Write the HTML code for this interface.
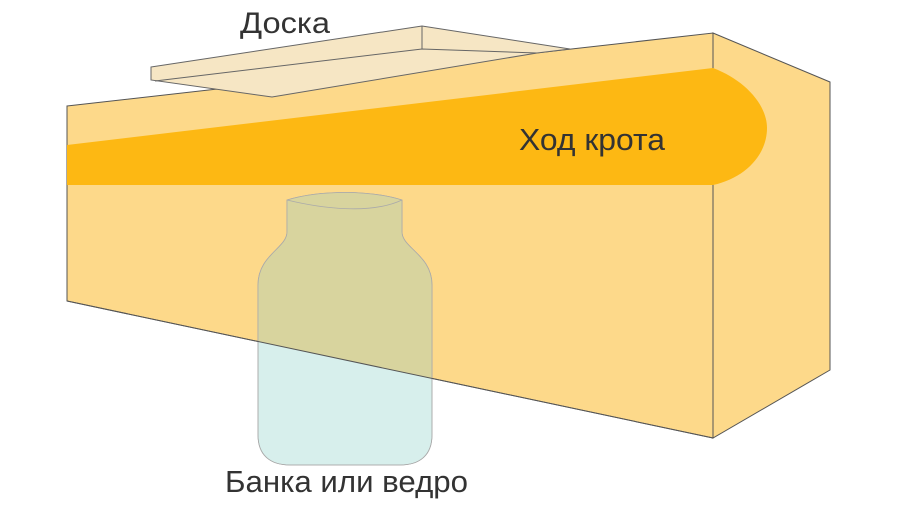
<!DOCTYPE html>
<html><head><meta charset="utf-8"><style>
html,body{margin:0;padding:0;background:#fff;}
svg{display:block}
text{font-family:"Liberation Sans","DejaVu Sans",sans-serif;fill:#333;}
</style></head><body>
<svg width="900" height="506" viewBox="0 0 900 506" xmlns="http://www.w3.org/2000/svg">
<defs>
<clipPath id="front"><polygon points="67,106 713,33 713,438 67,301"/></clipPath>
<path id="jar" d="M287,200 C320,190 370,190 402,200 L402,232 C402,248 432,255 432,285 L432,435 C432,455 420,465 400,465 L290,465 C270,465 258,455 258,435 L258,285 C258,255 287,248 287,232 Z"/>
</defs>
<polygon points="713,33 830,82 830,370 713,438" fill="#fdd98a" stroke="#555" stroke-width="1"/>
<polygon points="67,106 713,33 713,438 67,301" fill="#fdd98a" stroke="#555" stroke-width="1"/>
<path d="M67,145 L713,68 C745,80 767,105 767,128 C767,155 745,178 713,185 L67,185 Z" fill="#fdb813"/>
<polygon points="151,67 422,26 570,49 537,53 272,97 151,80" fill="#f6e6c4" stroke="#666" stroke-width="1"/>
<polyline points="155,81 422,49 537,53" fill="none" stroke="#666" stroke-width="1"/>
<line x1="422" y1="26" x2="422" y2="49" stroke="#666" stroke-width="1"/>
<use href="#jar" fill="#d7efec" stroke="#aaa" stroke-width="0.8"/>
<use href="#jar" fill="#d8d49e" clip-path="url(#front)"/>
<use href="#jar" fill="none" stroke="#aaa" stroke-width="0.8"/>
<line x1="67" y1="301" x2="713" y2="438" stroke="#555" stroke-width="1"/>
<path d="M287,200 C320,208 370,215 402,200" fill="none" stroke="#aaa" stroke-width="0.8"/>
<text x="240" y="33" font-size="30" textLength="90" lengthAdjust="spacingAndGlyphs">Доска</text>
<text x="519" y="150" font-size="31" textLength="146" lengthAdjust="spacingAndGlyphs">Ход крота</text>
<text x="225" y="492" font-size="31" textLength="243" lengthAdjust="spacingAndGlyphs">Банка или ведро</text>
</svg>
</body></html>
